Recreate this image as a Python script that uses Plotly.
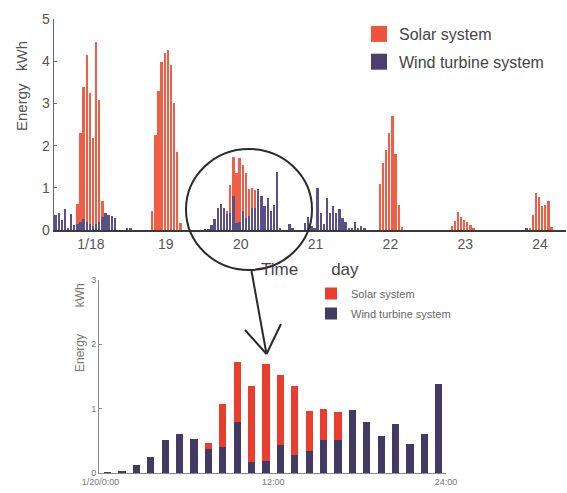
import plotly.graph_objects as go

W, H = 567, 493
FONT = "Liberation Sans, Arial, sans-serif"
TEXT = "#555555"

# ---- data -----------------------------------------------------------------
DAY_LABELS = ["1/18", "19", "20", "21", "22", "23", "24"]
HOUR_LABELS = ["1/20/0:00", "12:00", "24:00"]

# hourly energy (kWh), hour 0..23 of each day
wind_18 = [0.36, 0.41, 0.24, 0.49, 0.05, 0.37, 0.12, 0.15, 0.20, 0.25, 0.20, 0.15,
           0.10, 0.15, 0.20, 0.30, 0.41, 0.36, 0.33, 0.28, 0.00, 0.00, 0.00, 0.03]
solar_18 = [0, 0, 0, 0, 0, 0, 0, 0.47, 2.09, 3.15, 3.95, 3.10,
            2.08, 4.31, 2.88, 0.39, 0, 0, 0, 0, 0, 0, 0, 0]

wind_19 = [0.04, 0, 0, 0, 0, 0, 0, 0, 0, 0, 0, 0,
           0, 0, 0, 0, 0, 0, 0, 0, 0, 0, 0, 0]
solar_19 = [0, 0, 0, 0, 0, 0, 0, 0.45, 2.25, 3.30, 3.97, 4.20,
            4.27, 3.90, 3.00, 1.86, 0.17, 0, 0, 0, 0, 0, 0, 0]

wind_20 = [0.01, 0.02, 0.13, 0.25, 0.51, 0.61, 0.53, 0.38, 0.40, 0.80, 0.17, 0.18,
           0.44, 0.28, 0.34, 0.52, 0.52, 0.98, 0.80, 0.57, 0.76, 0.45, 0.60, 1.38]
solar_20 = [0, 0, 0, 0, 0, 0, 0, 0.08, 0.67, 0.93, 1.18, 1.52,
            1.09, 1.08, 0.62, 0.48, 0.43, 0, 0, 0, 0, 0, 0, 0]

wind_21 = [0.05, 0, 0, 0.15, 0.05, 0, 0, 0, 0.16, 0.30, 0.10, 0.05,
           1.00, 0.40, 0.15, 0.76, 0.40, 0.57, 0.40, 0.50, 0.28, 0.20, 0.05, 0.03]
solar_21 = [0] * 24

wind_22 = [0.20, 0.05, 0.10, 0.05, 0, 0, 0, 0, 0, 0, 0, 0,
           0, 0, 0, 0, 0, 0, 0, 0, 0, 0, 0, 0]
solar_22 = [0, 0, 0, 0, 0, 0, 0, 0, 1.10, 1.58, 1.90, 2.30,
            2.70, 1.80, 0.60, 0.08, 0, 0, 0, 0, 0, 0, 0, 0]

wind_23 = [0] * 24
solar_23 = [0, 0, 0, 0, 0, 0, 0, 0.10, 0.22, 0.42, 0.30, 0.24,
            0.20, 0.12, 0.05, 0, 0, 0, 0, 0, 0, 0, 0, 0]

wind_24 = [0, 0, 0, 0, 0, 0, 0, 0.03, 0, 0, 0, 0,
           0, 0, 0, 0, 0, 0, 0, 0, 0, 0, 0, 0]
solar_24 = [0, 0, 0, 0, 0, 0, 0, 0, 0.05, 0.35, 0.87, 0.78,
            0.57, 0.60, 0.68, 0.08, 0, 0, 0, 0, 0, 0, 0, 0]

wind_days = [wind_18, wind_19, wind_20, wind_21, wind_22, wind_23, wind_24]
solar_days = [solar_18, solar_19, solar_20, solar_21, solar_22, solar_23, solar_24]

# ---- colours --------------------------------------------------------------
SOLAR_TOP, WIND_TOP = "#F05E45", "#5A4F88"
SOLAR_BOT, WIND_BOT = "#EA3D2D", "#433A63"

# ---- helpers: pixel -> paper ------------------------------------------------
def fx(px):
    return px / W


def fy(py):
    return 1 - py / H


# hour-centred positions over the whole week
week_hours = [d * 24 + h + 0.5 for d in range(len(wind_days)) for h in range(24)]
week_wind = [v for day in wind_days for v in day]
week_solar = [v for day in solar_days for v in day]
day_ticks = [d * 24 + 12 for d in range(len(DAY_LABELS))]

day_hours = [h + 0.5 for h in range(24)]

fig = go.Figure()

# weekly overview (stacked thin bars)
fig.add_trace(go.Bar(x=week_hours, y=week_wind, width=0.75, marker_color=WIND_TOP,
                     marker_line_width=0, name="Wind turbine system",
                     showlegend=False, xaxis="x", yaxis="y"))
fig.add_trace(go.Bar(x=week_hours, y=week_solar, width=0.75, marker_color=SOLAR_TOP,
                     marker_line_width=0, name="Solar system",
                     showlegend=False, xaxis="x", yaxis="y"))

# legend keys of the overview
fig.add_trace(go.Scatter(x=[None], y=[None], mode="markers", name="Solar system",
                         marker=dict(symbol="square", size=16, color="#F0533D"),
                         legend="legend", legendgroup="s", legendrank=1,
                         xaxis="x", yaxis="y"))
fig.add_trace(go.Scatter(x=[None], y=[None], mode="markers", name="Wind turbine system",
                         marker=dict(symbol="square", size=16, color="#4A3F6E"),
                         legend="legend", legendgroup="w", legendrank=2,
                         xaxis="x", yaxis="y"))

# detail of 1/20 (stacked bars)
fig.add_trace(go.Bar(x=day_hours, y=wind_20, width=0.5, marker_color=WIND_BOT,
                     marker_line_width=0, name="Wind turbine system",
                     legend="legend2", legendgroup="w2", legendrank=2,
                     xaxis="x2", yaxis="y2"))
fig.add_trace(go.Bar(x=day_hours, y=solar_20, width=0.5, marker_color=SOLAR_BOT,
                     marker_line_width=0, name="Solar system",
                     legend="legend2", legendgroup="s2", legendrank=1,
                     xaxis="x2", yaxis="y2"))

axis_common = dict(showgrid=False, zeroline=False, showline=True, automargin=False)

fig.update_layout(
    width=W, height=H, autosize=False,
    margin=dict(l=0, r=0, t=0, b=0),
    paper_bgcolor="white", plot_bgcolor="white",
    barmode="stack", bargap=0,
    font=dict(family=FONT, color=TEXT),
    xaxis=dict(**axis_common, domain=[fx(53.5), fx(566)], range=[0, 164.3],
               linecolor="#3a3a3a", linewidth=1.5,
               tickmode="array", tickvals=day_ticks, ticktext=DAY_LABELS,
               ticks="", tickfont=dict(size=14, color=TEXT),
               title=dict(text="Time&nbsp;&nbsp;&nbsp;&nbsp;&nbsp;&nbsp;&nbsp;day",
                          font=dict(size=17, color="#444"), standoff=13),
               anchor="y"),
    yaxis=dict(**axis_common, domain=[fy(230), fy(19)], range=[0, 5],
               linecolor="#666", linewidth=1,
               tickvals=[0, 1, 2, 3, 4, 5], ticks="inside", ticklen=3,
               tickcolor="#666", tickfont=dict(size=14, color=TEXT),
               anchor="x"),
    xaxis2=dict(**axis_common, domain=[fx(99), fx(446)], range=[-0.1, 24],
                linecolor="#888", linewidth=1,
                tickmode="array", tickvals=[0, 12, 24], ticktext=HOUR_LABELS,
                ticks="", tickfont=dict(size=9, color="#777"),
                anchor="y2"),
    yaxis2=dict(**axis_common, domain=[fy(473), fy(280)], range=[0, 3],
                linecolor="#888", linewidth=1,
                tickvals=[0, 1, 2, 3], ticks="inside", ticklen=3,
                tickcolor="#888", tickfont=dict(size=9, color="#777"),
                anchor="x2"),
    legend=dict(x=fx(359), y=fy(17), xanchor="left", yanchor="top",
                bgcolor="rgba(0,0,0,0)", traceorder="grouped",
                tracegroupgap=4, font=dict(size=16, color="#444")),
    legend2=dict(x=fx(311), y=fy(279), xanchor="left", yanchor="top",
                 bgcolor="rgba(0,0,0,0)", traceorder="grouped",
                 tracegroupgap=1, font=dict(size=11, color="#666")),
    annotations=[
        dict(text="Energy&nbsp;&nbsp;&nbsp;kWh", textangle=-90, showarrow=False,
             xref="paper", yref="paper", x=fx(22), y=fy(86),
             xanchor="center", yanchor="middle",
             font=dict(size=15, color=TEXT)),
        dict(text="Energy&nbsp;&nbsp;&nbsp;&nbsp;&nbsp;&nbsp;&nbsp;&nbsp;kWh", textangle=-90,
             showarrow=False, xref="paper", yref="paper", x=fx(80), y=fy(328),
             xanchor="center", yanchor="middle",
             font=dict(size=12, color="#777")),
    ],
    shapes=[
        # ring around 1/20 on the overview
        dict(type="circle", xref="paper", yref="paper",
             x0=fx(186), x1=fx(312), y0=fy(270), y1=fy(149),
             line=dict(color="#2a2a2a", width=2)),
        # pointer down to the detail chart
        dict(type="line", xref="paper", yref="paper",
             x0=fx(251.5), y0=fy(271), x1=fx(266.5), y1=fy(354),
             line=dict(color="#2a2a2a", width=2)),
        dict(type="line", xref="paper", yref="paper",
             x0=fx(245), y0=fy(330), x1=fx(266.5), y1=fy(354),
             line=dict(color="#2a2a2a", width=2)),
        dict(type="line", xref="paper", yref="paper",
             x0=fx(281), y0=fy(324), x1=fx(266.5), y1=fy(354),
             line=dict(color="#2a2a2a", width=2)),
    ],
)

fig.write_html("out.html")
